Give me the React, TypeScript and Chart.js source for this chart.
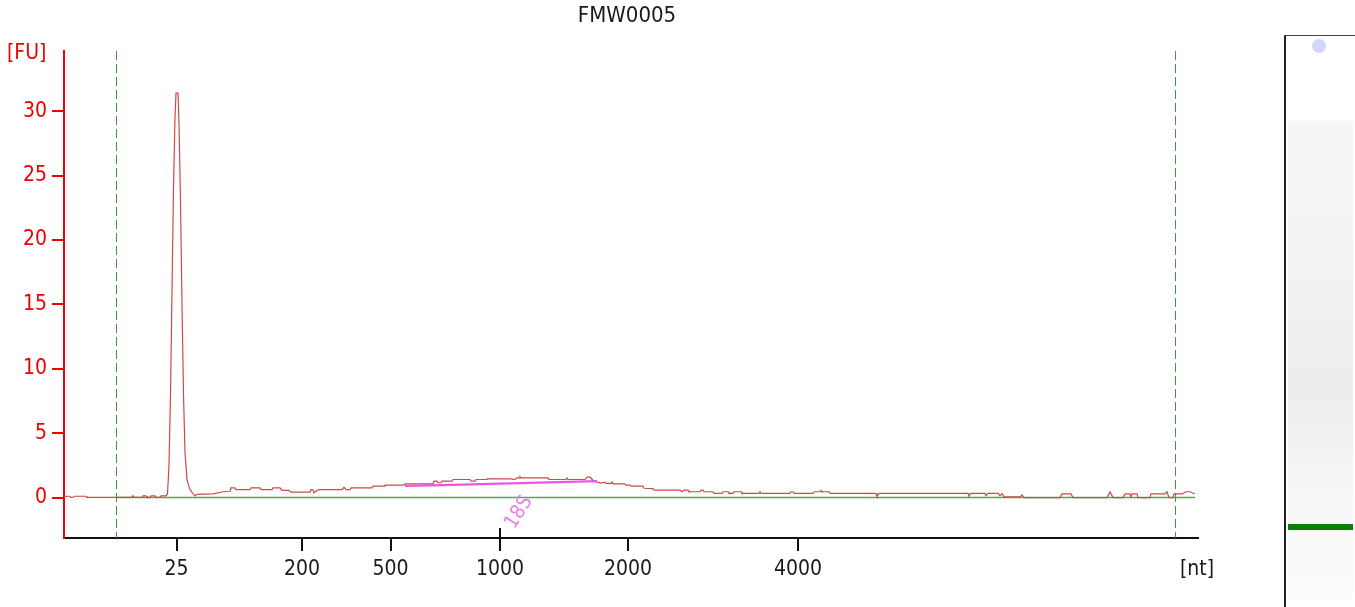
import React, { useEffect, useRef } from 'react';
import { Chart, registerables } from 'chart.js';

Chart.register(...registerables);

const FONT = "'DejaVu Sans Condensed', 'DejaVu Sans', Verdana, sans-serif";

const sampleName = 'FMW0005';
const yUnitLabel = '[FU]';
const xUnitLabel = '[nt]';

// ladder sizes (nt) and their migration times (s)
const ladderLabels = ['25', '200', '500', '1000', '2000', '4000'];
const ladderTimes = [24.63, 30.9, 35.33, 40.8, 47.2, 55.7];
const yTickValues = [0, 5, 10, 15, 20, 25, 30];

const xRange = [19, 75.7];
const yRange = [-3.14, 34.67];

// lower marker / end marker times
const markerTimes = [21.63, 74.58];

// electropherogram trace: time (s) and fluorescence (FU)
const traceTime = [
  19.0, 19.2, 19.3, 19.35, 19.45, 19.5, 20.1, 20.15, 22.4, 22.45, 22.5, 22.9, 22.95, 23.1, 23.15,
  23.3, 23.35, 23.55, 23.6, 23.8, 23.85, 24.1, 24.175, 24.25, 24.325, 24.4, 24.475, 24.55, 24.6,
  24.7, 24.75, 24.825, 24.9, 24.975, 25.05, 25.15, 25.275, 25.4, 25.55, 25.65, 26.45, 26.95, 27.3,
  27.35, 27.55, 27.6, 28.3, 28.35, 28.8, 28.85, 29.4, 29.45, 29.8, 29.9, 30.25, 30.35, 31.3, 31.35,
  31.45, 31.5, 31.6, 31.75, 32.9, 33.0, 33.1, 33.3, 33.35, 34.4, 34.45, 35.0, 35.05, 35.95, 36.05,
  37.45, 37.5, 37.65, 37.7, 37.85, 37.9, 38.4, 38.45, 39.3, 39.35, 39.55, 39.6, 40.15, 40.2, 40.25,
  41.4, 41.45, 41.55, 41.65, 41.75, 41.8, 41.85, 43.2, 43.25, 44.1, 44.15, 44.2, 45.05, 45.15, 45.3,
  45.45, 45.65, 45.8, 45.95, 46.05, 46.1, 46.35, 46.4, 46.45, 47.05, 47.1, 47.3, 47.35, 47.95, 48.0,
  48.45, 48.5, 49.8, 49.9, 50.0, 50.2, 50.25, 50.8, 50.85, 50.95, 51.0, 51.45, 51.5, 51.9, 51.95,
  52.2, 52.25, 52.45, 52.5, 52.85, 52.9, 53.75, 53.8, 53.85, 55.3, 55.35, 55.45, 55.5, 56.45, 56.5,
  56.8, 56.85, 56.9, 57.25, 57.3, 59.6, 59.65, 59.75, 64.2, 64.25, 64.35, 65.05, 65.1, 65.2, 65.7,
  65.8, 65.9, 66.0, 66.8, 66.9, 67.0, 68.8, 68.9, 69.35, 69.45, 71.15, 71.3, 71.45, 71.95, 72.05,
  72.3, 72.35, 72.4, 72.65, 72.7, 73.3, 73.35, 74.05, 74.15, 74.25, 74.45, 74.5, 74.9, 75.1, 75.3,
  75.55,
];
const traceFU = [
  0.08, 0.1, 0.1, 0.0, 0.02, 0.1, 0.1, 0.02, 0.02, 0.15, 0.02, 0.02, 0.13, 0.13, 0.02,
  0.02, 0.13, 0.13, 0.02, 0.02, 0.13, 0.13, 0.3, 2.5, 8, 16, 24, 29.5, 31.4,
  31.4, 29, 23, 15, 8, 3.5, 1.4, 0.7, 0.4, 0.12, 0.25, 0.29, 0.45, 0.49,
  0.75, 0.75, 0.62, 0.62, 0.75, 0.75, 0.62, 0.62, 0.75, 0.75, 0.55, 0.55, 0.42, 0.42, 0.62,
  0.6, 0.36, 0.5, 0.62, 0.62, 0.8, 0.62, 0.62, 0.75, 0.75, 0.88, 0.88, 0.96, 0.96, 1.06,
  1.06, 1.27, 1.27, 1.15, 1.15, 1.27, 1.27, 1.4, 1.4, 1.27, 1.27, 1.4, 1.4, 1.5, 1.45,
  1.45, 1.4, 1.4, 1.53, 1.53, 1.62, 1.53, 1.53, 1.4, 1.4, 1.53, 1.4, 1.4, 1.58, 1.58,
  1.35, 1.2, 1.14, 1.14, 1.2, 1.1, 1.1, 1.2, 1.06, 1.06, 0.96, 0.96, 0.88, 0.88, 0.72,
  0.7, 0.57, 0.57, 0.45, 0.57, 0.57, 0.45, 0.45, 0.57, 0.57, 0.45, 0.45, 0.32, 0.32, 0.45,
  0.45, 0.32, 0.32, 0.45, 0.45, 0.32, 0.32, 0.45, 0.32, 0.32, 0.45, 0.45, 0.32, 0.32, 0.45,
  0.45, 0.55, 0.45, 0.45, 0.32, 0.32, 0.1, 0.32, 0.32, 0.15, 0.32, 0.32, 0.15, 0.32, 0.32,
  0.15, 0.3, 0.05, 0.05, 0.2, 0.0, 0.0, 0.28, 0.28, 0.0, 0.0, 0.45, 0.0, 0.0, 0.28,
  0.28, 0.05, 0.28, 0.28, 0.0, 0.0, 0.28, 0.28, 0.45, 0.0, 0.0, 0.28, 0.28, 0.45, 0.45,
  0.28,
];

// 18S peak baseline
const peakBaseTime = [36.05, 40.8, 45.65];
const peakBaseFU = [0.9, 1.08, 1.27];
const peakLabel = '18S';
const peakLabelTime = 41.75;
const peakLabelFU = -1.15;

// instrument baseline
const baselineTime = [21.63, 75.55];
const baselineFU = [0, 0];

const toPoints = (xs: number[], ys: number[]) => xs.map((x, i) => ({ x, y: ys[i] }));

const decorPlugin = {
  id: 'decor',
  beforeDatasetsDraw(chart: any) {
    const { ctx, chartArea, scales } = chart;
    const xs = scales.x;
    ctx.save();
    ctx.strokeStyle = '#3a9a3a';
    ctx.lineWidth = 1;
    ctx.setLineDash([9, 4]);
    markerTimes.forEach((t) => {
      const px = Math.floor(xs.getPixelForValue(t)) + 0.5;
      ctx.beginPath();
      ctx.moveTo(px, chartArea.top);
      ctx.lineTo(px, chartArea.bottom);
      ctx.stroke();
    });
    ctx.restore();
  },
  afterDraw(chart: any) {
    const { ctx, chartArea, scales } = chart;
    const xs = scales.x;
    const ys = scales.y;
    ctx.save();
    // title
    ctx.font = `22px ${FONT}`;
    ctx.fillStyle = '#1a1a1a';
    ctx.textAlign = 'center';
    ctx.textBaseline = 'middle';
    ctx.fillText(sampleName, 627, 16);
    // unit labels
    ctx.font = `21px ${FONT}`;
    ctx.fillStyle = '#f00000';
    ctx.textAlign = 'left';
    ctx.fillText(yUnitLabel, 7, 54);
    ctx.fillStyle = '#1a1a1a';
    ctx.textAlign = 'center';
    ctx.fillText(xUnitLabel, 1197, 570);
    // 1000 nt tick extends upward
    const p1000 = Math.round(xs.getPixelForValue(ladderTimes[3]));
    ctx.strokeStyle = '#111';
    ctx.lineWidth = 2;
    ctx.beginPath();
    ctx.moveTo(p1000, chartArea.bottom - 10);
    ctx.lineTo(p1000, chartArea.bottom);
    ctx.stroke();
    // 18S label
    ctx.save();
    ctx.translate(xs.getPixelForValue(peakLabelTime), ys.getPixelForValue(peakLabelFU));
    ctx.rotate(-58 * Math.PI / 180);
    ctx.font = `20px ${FONT}`;
    ctx.fillStyle = '#f07cf0';
    ctx.textAlign = 'center';
    ctx.textBaseline = 'middle';
    ctx.fillText(peakLabel, 0, 0);
    ctx.restore();

    // gel lane
    const g = ctx.createLinearGradient(0, 120, 0, 600);
    g.addColorStop(0, '#fdfdfd');
    g.addColorStop(0.01, '#f5f5f5');
    g.addColorStop(0.3, '#f2f2f2');
    g.addColorStop(0.55, '#ededed');
    g.addColorStop(0.65, '#f0f0f0');
    g.addColorStop(0.8, '#f7f7f7');
    g.addColorStop(1, '#fbfbfb');
    ctx.fillStyle = g;
    ctx.fillRect(1288, 120, 65, 480);
    ctx.fillStyle = '#0a800a';
    ctx.fillRect(1288, 524, 65, 6);
    ctx.fillStyle = '#d3d6ff';
    ctx.beginPath();
    ctx.arc(1319, 46, 7, 0, Math.PI * 2);
    ctx.fill();
    ctx.strokeStyle = '#222';
    ctx.lineWidth = 2;
    ctx.beginPath();
    ctx.moveTo(1285, 35);
    ctx.lineTo(1285, 607);
    ctx.stroke();
    ctx.lineWidth = 1;
    ctx.strokeStyle = '#444';
    ctx.beginPath();
    ctx.moveTo(1284, 35.5);
    ctx.lineTo(1355, 35.5);
    ctx.stroke();
    ctx.restore();
  },
};

export default function App() {
  const ref = useRef<HTMLCanvasElement | null>(null);

  useEffect(() => {
    document.body.style.margin = '0';
    const canvas = ref.current;
    if (!canvas) return;
    const chart = new Chart(canvas, {
      type: 'line',
      data: {
        datasets: [
          {
            label: 'peak baseline',
            data: toPoints(peakBaseTime, peakBaseFU),
            borderColor: '#ee55e6',
            borderWidth: 2.2,
            pointRadius: 0,
            tension: 0.3,
          },
          {
            label: 'trace',
            data: toPoints(traceTime, traceFU),
            borderColor: '#cc4a4a',
            borderWidth: 1.2,
            pointRadius: 0,
            tension: 0,
          },
          {
            label: 'baseline',
            data: toPoints(baselineTime, baselineFU),
            borderColor: '#5aa55a',
            borderWidth: 1.4,
            pointRadius: 0,
            tension: 0,
          },
        ],
      },
      options: {
        responsive: false,
        animation: false,
        layout: { padding: { top: 51, right: 157, left: 0, bottom: 0 } },
        plugins: {
          legend: { display: false },
          tooltip: { enabled: false },
          title: { display: false },
        },
        scales: {
          x: {
            type: 'linear',
            min: xRange[0],
            max: xRange[1],
            afterFit: (s: any) => { s.height = 69; },
            afterBuildTicks: (s: any) => { s.ticks = ladderTimes.map((v) => ({ value: v })); },
            ticks: {
              autoSkip: false,
              maxRotation: 0,
              padding: 6,
              color: '#1a1a1a',
              font: { family: FONT, size: 21 },
              callback: (v: any) => {
                const i = ladderTimes.indexOf(Number(v));
                return i >= 0 ? ladderLabels[i] : '';
              },
            },
            grid: { drawOnChartArea: false, drawTicks: true, tickLength: 13, color: '#111', lineWidth: 2 },
            border: { display: true, color: '#111', width: 2 },
          },
          y: {
            type: 'linear',
            min: yRange[0],
            max: yRange[1],
            afterFit: (s: any) => { s.width = 64; },
            afterBuildTicks: (s: any) => { s.ticks = yTickValues.map((v) => ({ value: v })); },
            ticks: {
              padding: 5,
              color: '#f00000',
              font: { family: FONT, size: 21 },
            },
            grid: { drawOnChartArea: false, drawTicks: true, tickLength: 12, color: '#f00000', lineWidth: 2 },
            border: { display: true, color: '#f00000', width: 2 },
          },
        },
      },
      plugins: [decorPlugin],
    });
    return () => chart.destroy();
  }, []);

  return (
    <div style={{ position: 'absolute', left: 0, top: 0, width: 1355, height: 607, background: '#fff' }}>
      <canvas ref={ref} width={1355} height={607} style={{ width: 1355, height: 607, display: 'block' }} />
    </div>
  );
}
